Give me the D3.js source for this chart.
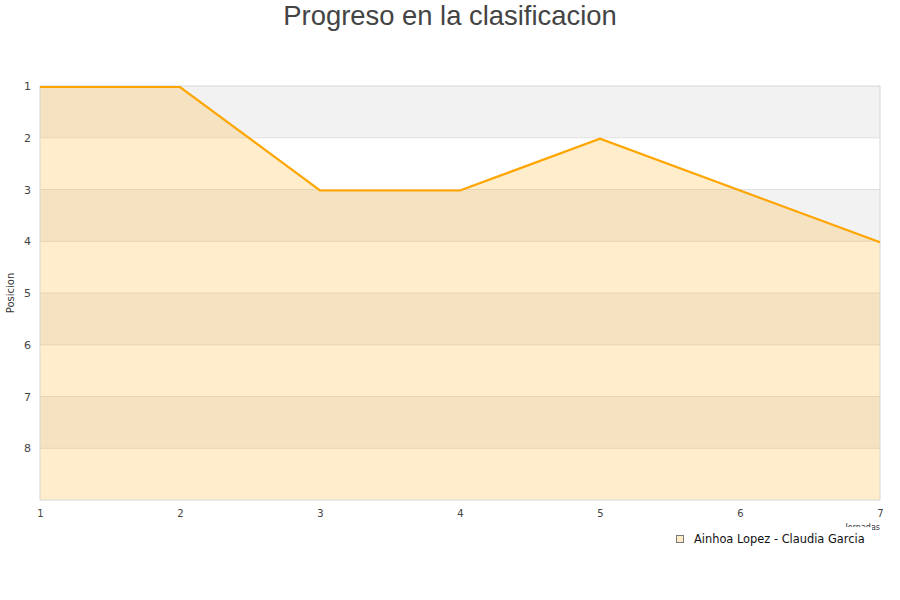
<!DOCTYPE html>
<html>
<head>
<meta charset="utf-8">
<script src="https://cdn.jsdelivr.net/npm/d3@7"></script>
<style>
body { margin: 0; background: #fff; }
svg { font-family: "DejaVu Sans", sans-serif; }
</style>
</head>
<body>
<script>
const jornadas = [1, 2, 3, 4, 5, 6, 7];
const posiciones = [1, 1, 3, 3, 2, 3, 4];
const y_ticks = [1, 2, 3, 4, 5, 6, 7, 8];
const serie_name = "Ainhoa Lopez - Claudia Garcia";

const margin = {top: 86, right: 20, bottom: 100, left: 40};
const width = 900 - margin.left - margin.right;
const height = 600 - margin.top - margin.bottom;

let svg = d3.select("body").append("svg")
        .attr("width", 900)
        .attr("height", 600);

svg.append("text")
  .attr("x", 450).attr("y", 25)
  .attr("text-anchor", "middle")
  .attr("font-size", 27.4)
  .style("font-family", "'Liberation Sans', Arial, sans-serif")
  .attr("fill", "#444")
  .text("Progreso en la clasificacion");

let g = svg.append("g")
        .attr("transform", "translate(" + margin.left + "," + margin.top + ")");

let x = d3.scaleLinear().domain([1, 7]).range([0, width]);
let y = d3.scaleLinear().domain([1, 9]).range([0, height]);

// alternating bands
g.selectAll(".band").data(d3.range(1, 9))
  .enter().append("rect")
  .attr("x", 0).attr("width", width)
  .attr("y", d => y(d)).attr("height", d => y(d + 1) - y(d))
  .attr("fill", d => d % 2 == 1 ? "#f2f2f2" : "#ffffff");

// grid lines
g.selectAll(".grid").data(d3.range(2, 9))
  .enter().append("line")
  .attr("x1", 0).attr("x2", width)
  .attr("y1", d => y(d)).attr("y2", d => y(d))
  .attr("stroke", "#e0e0e0");

let data = jornadas.map((j, i) => ({j: j, p: posiciones[i]}));

let area = d3.area()
  .x(d => x(d.j))
  .y0(height)
  .y1(d => y(d.p));

g.append("path").datum(data)
  .attr("d", area)
  .attr("fill", "orange")
  .attr("fill-opacity", 0.2);

// plot frame
g.append("rect")
  .attr("width", width).attr("height", height)
  .attr("fill", "none")
  .attr("stroke", "#d6d6d6");

let line = d3.line()
  .x(d => x(d.j))
  .y(d => y(d.p) + 1);

g.append("path").datum(data)
  .attr("d", line)
  .attr("fill", "none")
  .attr("stroke", "orange")
  .attr("stroke-width", 2.2);

// y axis
let y_axis = d3.axisLeft(y).tickValues(y_ticks).tickFormat(d3.format("d")).tickSize(0).tickPadding(9);
g.append("g").call(y_axis)
  .call(a => a.select(".domain").remove())
  .selectAll("text").attr("font-size", 11).attr("fill", "#444")
  .style("font-family", "'DejaVu Sans', sans-serif");

// x axis
let x_axis = d3.axisBottom(x).tickValues(jornadas).tickFormat(d3.format("d")).tickSize(0).tickPadding(10);
g.append("g").attr("transform", "translate(0," + height + ")").call(x_axis)
  .call(a => a.select(".domain").remove())
  .selectAll("text").attr("font-size", 10).attr("fill", "#444")
  .style("font-family", "'DejaVu Sans', sans-serif");

svg.append("text")
  .attr("transform", "translate(14," + (margin.top + height / 2) + ") rotate(-90)")
  .attr("text-anchor", "middle")
  .attr("font-size", 10)
  .attr("fill", "#333")
  .text("Posicion");

svg.append("text")
  .attr("x", 880).attr("y", 530)
  .attr("text-anchor", "end")
  .attr("font-size", 8)
  .attr("fill", "#333")
  .text("Jornadas");

// legend
let legend = svg.append("g");
legend.append("rect")
  .attr("x", 668).attr("y", 527).attr("width", 204).attr("height", 26)
  .attr("fill", "#fff");
legend.append("rect")
  .attr("x", 676.5).attr("y", 535.5).attr("width", 7).attr("height", 7)
  .attr("fill", "#fdebc9").attr("stroke", "#777");
legend.append("text")
  .attr("x", 694).attr("y", 543)
  .attr("font-size", 11.4)
  .attr("fill", "#111")
  .text(serie_name);
</script>
</body>
</html>
